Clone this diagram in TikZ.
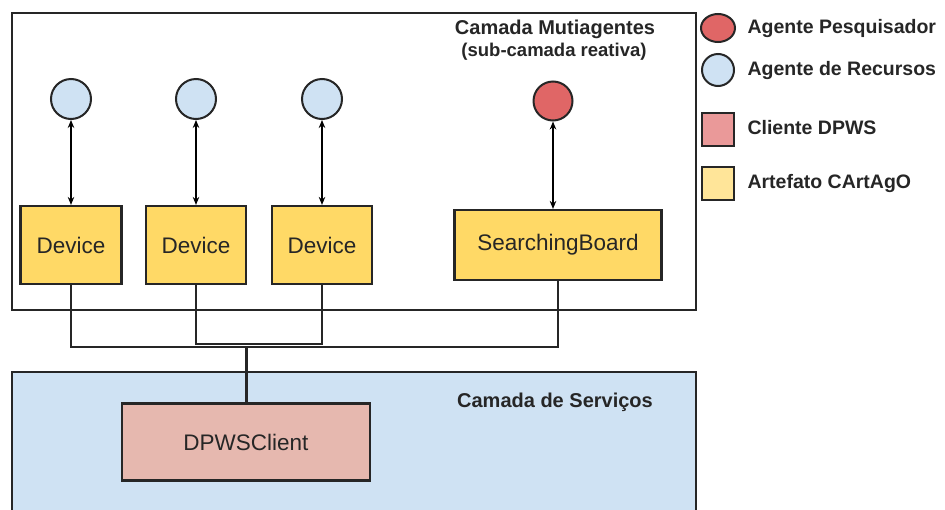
\documentclass[tikz,border=0pt]{standalone}
\usepackage{fontspec}
\setmainfont{Liberation Sans}
\usetikzlibrary{arrows.meta,shapes.geometric}
\definecolor{artyellow}{HTML}{FFD966}
\definecolor{legyellow}{HTML}{FFE599}
\definecolor{agblue}{HTML}{CFE2F3}
\definecolor{agred}{HTML}{E06666}
\definecolor{clientpink}{HTML}{E6B8AF}
\definecolor{legpink}{HTML}{EA9999}
\definecolor{layerblue}{HTML}{CFE2F3}
\begin{document}
\begin{tikzpicture}[x=1pt,y=-1pt,
  layer/.style={draw=black!85,line width=2.2pt},
  artifact/.style={draw=black!85,line width=2.2pt,fill=artyellow,inner sep=0pt,
    font=\fontsize{22.5}{26}\selectfont,text=black!85},
  agent/.style={draw=black!85,line width=2pt,circle,minimum size=40pt,inner sep=0pt},
  link/.style={line width=1.8pt,{Stealth[length=8pt,width=6.5pt]}-{Stealth[length=8pt,width=6.5pt]}},
  wire/.style={line width=1.8pt,black!85},
  title/.style={font=\bfseries\fontsize{20}{23}\selectfont,text=black!85},
  legtext/.style={font=\bfseries\fontsize{19.5}{22}\selectfont,text=black!85,anchor=west},
  legbox/.style={draw=black!85,line width=2pt,minimum width=32pt,minimum height=33pt,inner sep=0pt}]
\useasboundingbox (0,0) rectangle (945,509);
\fill[white] (0,0) rectangle (945,509);

% layers
\begin{scope}
\clip (0,0) rectangle (945,509);
\draw[layer,fill=layerblue] (12,372) rectangle (696,520);
\end{scope}
\draw[layer] (12,13) rectangle (696,310);
\node[title] (mastitle) at (555,29) {Camada Mutiagentes};
\node[title,font=\bfseries\fontsize{18.5}{21}\selectfont] (massub) at (554,52) {(sub-camada reativa)};
\node[title] (svctitle) at (555,402) {Camada de Serviços};

% artifacts
\node[artifact,minimum width=101pt,minimum height=78pt] (d1) at (71,245) {Device};
\node[artifact,minimum width=100pt,minimum height=78pt] (d2) at (196,245) {Device};
\node[artifact,minimum width=100pt,minimum height=78pt] (d3) at (322,245) {Device};
\node[artifact,minimum width=207pt,minimum height=70pt] (sb) at (558,245) {SearchingBoard};

% agents
\node[agent,fill=agblue] (a1) at (71,99) {};
\node[agent,fill=agblue] (a2) at (196,99) {};
\node[agent,fill=agblue] (a3) at (322,99) {};
\node[agent,fill=agred,minimum size=39pt] (a4) at (553,101) {};

\draw[link] (a1) -- (d1);
\draw[link] (a2) -- (d2);
\draw[link] (a3) -- (d3);
\draw[link] (a4) -- (a4 |- sb.north);

% DPWS client
\node[draw=black!85,line width=2.2pt,fill=clientpink,minimum width=248pt,minimum height=77pt,
  font=\fontsize{22.5}{26}\selectfont,text=black!85] (dc) at (246,442) {DPWSClient};

% wiring between artifacts and client
\coordinate (bus) at (246,347);
\draw[wire] (d1.south) |- (bus) -| (sb.south);
\draw[wire] (d2.south) |- (322,344) -- (d3.south);
\draw[wire,line width=3pt] (bus) -- (dc.north);

% legend
\node[draw=black!85,line width=2pt,fill=agred,ellipse,minimum width=34pt,minimum height=28pt,inner sep=0pt] (lr) at (718,28) {};
\node[legtext] (lrt) at (744,28) {Agente Pesquisador};
\node[draw=black!85,line width=2pt,fill=agblue,circle,minimum size=32pt,inner sep=0pt] (lb) at (718,70) {};
\node[legtext] (lbt) at (744,70) {Agente de Recursos};
\node[legbox,fill=legpink] (lp) at (718,129) {};
\node[legtext] (lpt) at (744,128) {Cliente DPWS};
\node[legbox,fill=legyellow] (ly) at (718,183) {};
\node[legtext] (lyt) at (744,183) {Artefato CArtAgO};
\end{tikzpicture}
\end{document}
